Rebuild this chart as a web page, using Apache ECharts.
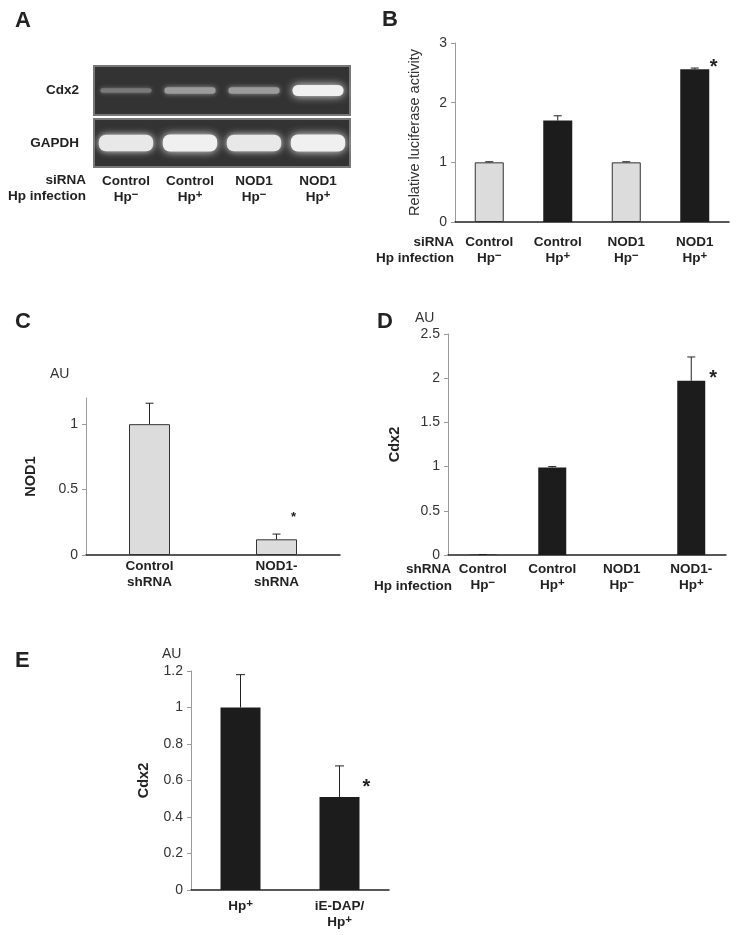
<!DOCTYPE html>
<html><head><meta charset="utf-8">
<script src="https://cdn.jsdelivr.net/npm/echarts@6/dist/echarts.min.js"></script>
<style>html,body{margin:0;padding:0;background:#fff}#c{width:754px;height:935px}</style>
</head><body><div id="c"></div>
<script>
// ---------- data ----------
const laneSiRNA = ['Control', 'Control', 'NOD1', 'NOD1'];
const laneHp = ['−', '+', '−', '+'];
const gelRows = ['Cdx2', 'GAPDH'];
const cdx2Signal = [0.3, 0.5, 0.5, 1.0];
const gapdhSignal = [0.95, 1.0, 0.95, 1.0];

const bValues = [1.0, 1.70, 1.0, 2.56];
const bErrors = [0.01, 0.08, 0.01, 0.02];
const bStars = [null, null, null, 2.68];
const bTicks = [0, 1, 2, 3];

const cCats = ['Control', 'NOD1-'];
const cSub = ['shRNA', 'shRNA'];
const cValues = [1.0, 0.12];
const cErrors = [0.16, 0.04];
const cStars = [null, 0.31];
const cTicks = [0, 0.5, 1];

const dShRNA = ['Control', 'Control', 'NOD1', 'NOD1-'];
const dHp = ['−', '+', '−', '+'];
const dValues = [0.004, 0.99, 0, 1.97];
const dErrors = [0.002, 0.01, 0, 0.27];
const dStars = [null, null, null, 2.05];
const dTicks = [0, 0.5, 1, 1.5, 2, 2.5];

const eTreat = ['', 'iE-DAP/'];
const eHp = ['+', '+'];
const eValues = [1.0, 0.51];
const eErrors = [0.18, 0.17];
const eStars = [null, 0.59];
const eTicks = [0, 0.2, 0.4, 0.6, 0.8, 1, 1.2];

// ---------- styles ----------
const FONT = '"Liberation Sans", Arial, Helvetica, sans-serif';
const GRAY = '#dcdcdc', BLACK = '#1c1c1c', INK = '#222';
const rich = {
  b: { fontFamily: FONT, fontWeight: 'bold', fontSize: 13.5, color: INK, lineHeight: 16 },
  s: { fontFamily: FONT, fontWeight: 'bold', fontSize: 11.5, color: INK, verticalAlign: 'top', lineHeight: 10 }
};
const hpLabel = (t, hp) => (t ? '{b|' + t + '}\n' : '') + '{b|Hp}{s|' + hp + '}';

const chart = echarts.init(document.getElementById('c'), null, { renderer: 'canvas' });

function yAxisStyle(grid, ticks, max, name, gap, bold) {
  return {
    type: 'value', gridIndex: grid, min: 0, max: max,
    axisLine: { show: true, lineStyle: { color: '#9a9a9a', width: 1 } },
    axisTick: { show: true, length: 4, lineStyle: { color: '#9a9a9a' }, customValues: ticks },
    axisLabel: { customValues: ticks, margin: 8, fontFamily: FONT, fontSize: 14, color: '#333' },
    splitLine: { show: false },
    name: name, nameLocation: 'middle', nameRotate: 90, nameGap: gap,
    nameTextStyle: { fontFamily: FONT, fontSize: 14.5, fontWeight: bold ? 'bold' : 'normal', color: bold ? INK : '#333' }
  };
}
function xAxisStyle(grid, data, formatter, margin) {
  return {
    type: 'category', gridIndex: grid, data: data,
    axisLine: { show: true, lineStyle: { color: '#222', width: 1.5 } },
    axisTick: { show: false },
    axisLabel: { interval: 0, margin: margin, formatter: formatter, rich: rich }
  };
}
function barSeries(axisIdx, values, hpArr, width, forceGray) {
  return {
    type: 'bar', xAxisIndex: axisIdx, yAxisIndex: axisIdx, barWidth: width,
    data: values.map((v, i) => ({
      value: v,
      itemStyle: (forceGray === 'gray' || (forceGray == null && hpArr[i] === '−'))
        ? { color: GRAY, borderColor: '#333', borderWidth: 1 }
        : { color: BLACK, borderColor: BLACK, borderWidth: 0 }
    })),
    silent: true, animation: false
  };
}
function errSeries(axisIdx, values, errors, cap) {
  return {
    type: 'custom', xAxisIndex: axisIdx, yAxisIndex: axisIdx, silent: true, animation: false, z: 5,
    data: values.map((v, i) => [i, v, v + errors[i], errors[i]]),
    renderItem: function (params, api) {
      if (api.value(3) <= 0) return null;
      const x = api.value(0);
      const p0 = api.coord([x, api.value(1)]);
      const p1 = api.coord([x, api.value(2)]);
      return { type: 'group', children: [
        { type: 'line', shape: { x1: p0[0], y1: p0[1], x2: p1[0], y2: p1[1] }, style: { stroke: '#222', lineWidth: 1 } },
        { type: 'line', shape: { x1: p1[0] - cap, y1: p1[1], x2: p1[0] + cap, y2: p1[1] }, style: { stroke: '#222', lineWidth: 1 } }
      ] };
    }
  };
}
function starSeries(axisIdx, stars, dx, size) {
  const data = [];
  stars.forEach((s, i) => { if (s != null) data.push([i, s]); });
  return {
    type: 'custom', xAxisIndex: axisIdx, yAxisIndex: axisIdx, silent: true, animation: false, z: 6,
    data: data,
    renderItem: function (params, api) {
      const p = api.coord([api.value(0), api.value(1)]);
      return { type: 'text', x: p[0] + dx, y: p[1] + size * 0.25,
        style: { text: '*', font: 'bold ' + size + 'px ' + FONT, fill: INK, align: 'center', verticalAlign: 'middle' } };
    }
  };
}
function bandSeries(axisIdx, signal, baseH, gainH, widthFrac) {
  return {
    type: 'custom', xAxisIndex: axisIdx, yAxisIndex: axisIdx, silent: true, animation: false,
    data: signal.map((s, i) => [i, 0, s]),
    renderItem: function (params, api) {
      const c = api.coord([api.value(0), api.value(1)]);
      const s = api.value(2);
      const w = api.size([1, 0])[0] * widthFrac;
      const h = baseH + gainH * s;
      const g = Math.round(70 + 170 * s);
      const col = 'rgb(' + g + ',' + g + ',' + g + ')';
      return { type: 'rect', shape: { x: c[0] - w / 2, y: c[1] - h / 2, width: w, height: h, r: Math.min(h / 2, 7) },
        style: { fill: col, shadowBlur: 3 + 5 * s, shadowColor: col } };
    }
  };
}

const laneNames = laneSiRNA.map((t, i) => t + ' Hp' + laneHp[i]);
const dNames = dShRNA.map((t, i) => t + ' Hp' + dHp[i]);
const eNames = eTreat.map((t, i) => t + 'Hp' + eHp[i]);

const gelGrid = { show: true, backgroundColor: '#333333', borderColor: '#777777', borderWidth: 2, outerBoundsMode: 'none' };

function txt(x, y, text, font, align, color) {
  return { type: 'text', x: x, y: y, silent: true,
    style: { text: text, font: font, fill: color || INK, align: align || 'left', verticalAlign: 'middle' } };
}
const letterFont = 'bold 22px ' + FONT;
const boldFont = 'bold 13.5px ' + FONT;
const auFont = '14px ' + FONT;

const option = {
  animation: false,
  backgroundColor: '#fff',
  grid: [
    Object.assign({ left: 94, top: 66, width: 256, height: 49 }, gelGrid),
    Object.assign({ left: 94, top: 119, width: 256, height: 48 }, gelGrid),
    { left: 455, top: 43, width: 274, height: 179, outerBoundsMode: 'none' },
    { left: 86, top: 398, width: 254, height: 157, outerBoundsMode: 'none' },
    { left: 448, top: 334, width: 278, height: 221, outerBoundsMode: 'none' },
    { left: 191, top: 671, width: 198, height: 219, outerBoundsMode: 'none' }
  ],
  xAxis: [
    { type: 'category', gridIndex: 0, data: laneNames, show: false },
    { type: 'category', gridIndex: 1, data: laneNames, axisLine: { show: false }, axisTick: { show: false },
      axisLabel: { interval: 0, margin: 6, rich: rich, formatter: (v, i) => hpLabel(laneSiRNA[i], laneHp[i]) } },
    xAxisStyle(2, laneNames, (v, i) => hpLabel(laneSiRNA[i], laneHp[i]), 12),
    xAxisStyle(3, cCats, (v, i) => '{b|' + cCats[i] + '}\n{b|' + cSub[i] + '}', 3),
    xAxisStyle(4, dNames, (v, i) => hpLabel(dShRNA[i], dHp[i]), 6),
    xAxisStyle(5, eNames, (v, i) => hpLabel(eTreat[i], eHp[i]), 8)
  ],
  yAxis: [
    { type: 'category', gridIndex: 0, data: [gelRows[0]], axisLine: { show: false }, axisTick: { show: false },
      axisLabel: { margin: 15, fontFamily: FONT, fontWeight: 'bold', fontSize: 13.5, color: INK } },
    { type: 'category', gridIndex: 1, data: [gelRows[1]], axisLine: { show: false }, axisTick: { show: false },
      axisLabel: { margin: 15, fontFamily: FONT, fontWeight: 'bold', fontSize: 13.5, color: INK } },
    yAxisStyle(2, bTicks, 3, 'Relative luciferase activity', 33, false),
    yAxisStyle(3, cTicks, 1.2, 'NOD1', 48, true),
    yAxisStyle(4, dTicks, 2.5, 'Cdx2', 46, true),
    yAxisStyle(5, eTicks, 1.2, 'Cdx2', 40, true)
  ],
  series: [
    bandSeries(0, cdx2Signal, 2, 9, 0.8),
    bandSeries(1, gapdhSignal, 7, 10, 0.85),
    barSeries(2, bValues, laneHp, 29),
    errSeries(2, bValues, bErrors, 4),
    starSeries(2, bStars, 19, 20),
    barSeries(3, cValues, null, 41, 'gray'),
    errSeries(3, cValues, cErrors, 4),
    starSeries(3, cStars, 17, 13),
    barSeries(4, dValues, dHp, 28, 'black'),
    errSeries(4, dValues, dErrors, 4),
    starSeries(4, dStars, 22, 20),
    barSeries(5, eValues, eHp, 40, 'black'),
    errSeries(5, eValues, eErrors, 4.5),
    starSeries(5, eStars, 27, 20)
  ],
  graphic: [
    txt(15, 21, 'A', letterFont),
    txt(382, 20, 'B', letterFont),
    txt(15, 322, 'C', letterFont),
    txt(377, 322, 'D', letterFont),
    txt(15, 661, 'E', letterFont),
    txt(86, 180, 'siRNA', boldFont, 'right'),
    txt(86, 196, 'Hp infection', boldFont, 'right'),
    txt(454, 242, 'siRNA', boldFont, 'right'),
    txt(454, 258, 'Hp infection', boldFont, 'right'),
    txt(451, 569, 'shRNA', boldFont, 'right'),
    txt(452, 586, 'Hp infection', boldFont, 'right'),
    txt(50, 374, 'AU', auFont, 'left', '#333'),
    txt(415, 318, 'AU', auFont, 'left', '#333'),
    txt(162, 654, 'AU', auFont, 'left', '#333')
  ]
};
chart.setOption(option);
</script></body></html>
